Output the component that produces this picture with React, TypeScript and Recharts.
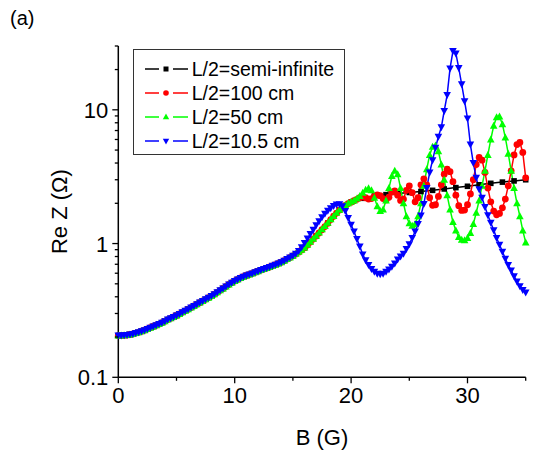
import React from "react";
import { LineChart, Line, XAxis, YAxis, Legend } from "recharts";

// magnetic field grid (G), 0.25 G steps
const fieldB = [
  0, 0.25, 0.5, 0.75, 1, 1.25, 1.5, 1.75, 2, 2.25, 2.5, 2.75, 3, 3.25, 3.5, 3.75,
  4, 4.25, 4.5, 4.75, 5, 5.25, 5.5, 5.75, 6, 6.25, 6.5, 6.75, 7, 7.25, 7.5, 7.75,
  8, 8.25, 8.5, 8.75, 9, 9.25, 9.5, 9.75, 10, 10.25, 10.5, 10.75, 11, 11.25, 11.5, 11.75,
  12, 12.25, 12.5, 12.75, 13, 13.25, 13.5, 13.75, 14, 14.25, 14.5, 14.75, 15,
  15.25, 15.5, 15.75, 16, 16.25, 16.5, 16.75, 17, 17.25, 17.5, 17.75, 18, 18.25, 18.5, 18.75,
  19, 19.25, 19.5, 19.75, 20, 20.25, 20.5, 20.75, 21, 21.25, 21.5, 21.75, 22, 22.25, 22.5, 22.75,
  23, 23.25, 23.5, 23.75, 24, 24.25, 24.5, 24.75, 25, 25.25, 25.5, 25.75, 26, 26.25, 26.5, 26.75,
  27, 27.25, 27.5, 27.75, 28, 28.25, 28.5, 28.75, 29, 29.25, 29.5, 29.75, 30, 30.25, 30.5, 30.75,
  31, 31.25, 31.5, 31.75, 32, 32.25, 32.5, 32.75, 33, 33.25, 33.5, 33.75, 34, 34.25, 34.5, 34.75, 35,
];

// low-field part (0-15 G), all lengths coincide here
const lowField = [
  0.205, 0.205, 0.206, 0.207, 0.209, 0.211, 0.214, 0.217, 0.221, 0.225, 0.23, 0.235, 0.24, 0.245,
  0.25, 0.256, 0.263, 0.27, 0.276, 0.283, 0.29, 0.298, 0.306, 0.314, 0.323, 0.332, 0.342, 0.352,
  0.362, 0.372, 0.383, 0.394, 0.405, 0.418, 0.432, 0.447, 0.462, 0.478, 0.494, 0.51, 0.525, 0.539,
  0.553, 0.565, 0.577, 0.588, 0.598, 0.61, 0.622, 0.633, 0.645, 0.656, 0.668, 0.681, 0.695, 0.71,
  0.726, 0.744, 0.765, 0.787, 0.81,
];

const z100 = [
  ...lowField,
  0.835, 0.862, 0.895, 0.93, 0.975, 1.025, 1.08, 1.14, 1.2, 1.27, 1.34, 1.42, 1.51, 1.6, 1.69,
  1.78, 1.86, 1.93, 1.99, 2.04,
  2.09, 2.14, 2.2, 2.23, 2.2, 2.15, 2.17, 2.25, 2.31, 2.28, 2.17, 2.12, 2.22, 2.42, 2.48, 2.3,
  2.1, 2.15, 2.5, 2.7, 2.4, 2.05, 2.2, 2.75, 3.05, 2.75, 2.2, 1.93, 1.95, 2.25, 2.75, 3.3,
  3.6, 3.45, 2.9, 2.3, 1.92, 1.77, 1.78, 1.95, 2.35, 3.0, 3.9, 4.4, 4.2, 3.4, 2.6, 2.05,
  1.75, 1.64, 1.68, 1.85, 2.15, 2.7, 3.5, 4.6, 5.5, 5.7, 4.8, 3.1,
];

const z50 = [
  ...lowField,
  0.84, 0.868, 0.9, 0.935, 0.98, 1.03, 1.085, 1.145, 1.21, 1.28, 1.35, 1.43, 1.52, 1.61, 1.7,
  1.79, 1.87, 1.94, 2.0, 2.05,
  2.1, 2.17, 2.27, 2.4, 2.52, 2.59, 2.5, 2.2, 1.9, 1.75, 1.8, 2.1, 2.6, 3.2, 3.5, 3.3,
  2.6, 2.0, 1.6, 1.42, 1.36, 1.4, 1.6, 2.0, 2.7, 3.6, 4.6, 5.3, 5.4, 4.9, 3.9, 3.0,
  2.3, 1.8, 1.45, 1.25, 1.12, 1.07, 1.06, 1.1, 1.2, 1.4, 1.7, 2.1, 2.7, 3.5, 4.6, 6.0,
  7.6, 8.8, 8.9, 7.8, 6.2, 4.7, 3.5, 2.6, 2.0, 1.6, 1.25, 1.02,
];

const z10 = [
  ...lowField,
  0.84, 0.88, 0.94, 1.01, 1.09, 1.18, 1.27, 1.37, 1.47, 1.57, 1.67, 1.76, 1.84, 1.91, 1.96,
  1.97, 1.9, 1.75, 1.55, 1.38,
  1.23, 1.08, 0.95, 0.83, 0.75, 0.69, 0.645, 0.615, 0.595, 0.59, 0.595, 0.615, 0.64, 0.67, 0.71, 0.76,
  0.8, 0.84, 0.91, 0.99, 1.1, 1.23, 1.4, 1.62, 1.98, 2.6, 3.4, 4.2, 5.2, 6.3, 7.4, 9.8,
  12.9, 20.4, 27.5, 26.4, 20.5, 15.5, 11.6, 8.6, 5.5, 4.0, 3.1, 2.55, 2.2, 1.88, 1.63, 1.43,
  1.26, 1.1, 0.98, 0.87, 0.77, 0.69, 0.63, 0.57, 0.52, 0.48, 0.45, 0.43,
];

// semi-infinite plasma, one point per gauss
const fieldSemi = [
  0, 1, 2, 3, 4, 5, 6, 7, 8, 9, 10, 11, 12, 13, 14, 15, 16, 17,
  18, 19, 20, 21, 22, 23, 24, 25, 26, 27, 28, 29, 30, 31, 32, 33, 34, 35,
];
const zSemi = [
  0.205, 0.209, 0.221, 0.24, 0.263, 0.29, 0.323, 0.362, 0.405, 0.462, 0.525, 0.577, 0.622, 0.668,
  0.726, 0.81, 0.93, 1.14, 1.42, 1.78, 2.04, 2.18, 2.26, 2.32, 2.37, 2.41, 2.45, 2.5, 2.56, 2.62,
  2.68, 2.75, 2.82, 2.88, 2.94, 3.0,
];

const xTicks = [0, 5, 10, 15, 20, 25, 30, 35];
const xMajor = [0, 10, 20, 30];
const yTicks = [
  0.1, 0.2, 0.3, 0.4, 0.5, 0.6, 0.7, 0.8, 0.9, 1, 2, 3, 4, 5, 6, 7, 8, 9, 10, 20, 30,
];
const yMajor = [0.1, 1, 10];

const FONT = "'Liberation Sans', Arial, sans-serif";

const rows = fieldB.map((b, i) => {
  const k = fieldSemi.indexOf(b);
  return {
    b,
    semi: k >= 0 ? zSemi[k] : null,
    l100: z100[i],
    l50: z50[i],
    l10: z10[i],
  };
});

function XTick(props: any) {
  const { x, y, payload } = props;
  const major = xMajor.includes(payload.value);
  const len = major ? 6 : 3.5;
  return (
    <g>
      <line x1={x} x2={x} y1={y} y2={y + len} stroke="#000" strokeWidth={1.3} />
      {major && (
        <text x={x} y={y + 26} textAnchor="middle" fontSize={22} fontFamily={FONT} fill="#000">
          {payload.value}
        </text>
      )}
    </g>
  );
}

function YTick(props: any) {
  const { x, y, payload } = props;
  const major = yMajor.includes(payload.value);
  const len = major ? 6 : 3.5;
  return (
    <g>
      <line x1={x - len} x2={x} y1={y} y2={y} stroke="#000" strokeWidth={1.3} />
      {major && (
        <text x={x - len - 4} y={y + 8} textAnchor="end" fontSize={22} fontFamily={FONT} fill="#000">
          {payload.value}
        </text>
      )}
    </g>
  );
}

const squareDot = (p: any) =>
  p.cy == null ? <g key={`s${p.index}`} /> : (
    <rect key={`s${p.index}`} x={p.cx - 2.8} y={p.cy - 2.8} width={5.6} height={5.6} fill="#000" />
  );
const circleDot = (p: any) =>
  p.cy == null ? <g key={`c${p.index}`} /> : (
    <circle key={`c${p.index}`} cx={p.cx} cy={p.cy} r={3.4} fill="#ff0000" />
  );
const upDot = (p: any) =>
  p.cy == null ? <g key={`u${p.index}`} /> : (
    <path key={`u${p.index}`} d={`M${p.cx},${p.cy - 4}L${p.cx + 3.8},${p.cy + 3}L${p.cx - 3.8},${p.cy + 3}Z`} fill="#00ff00" />
  );
const downDot = (p: any) =>
  p.cy == null ? <g key={`d${p.index}`} /> : (
    <path key={`d${p.index}`} d={`M${p.cx},${p.cy + 4}L${p.cx + 3.8},${p.cy - 3}L${p.cx - 3.8},${p.cy - 3}Z`} fill="#0000ff" />
  );

const legendItems = [
  { label: "L/2=semi-infinite", color: "#000", shape: "square" },
  { label: "L/2=100 cm", color: "#ff0000", shape: "circle" },
  { label: "L/2=50 cm", color: "#00ff00", shape: "up" },
  { label: "L/2=10.5 cm", color: "#0000ff", shape: "down" },
];

function LegendIcon({ color, shape }: { color: string; shape: string }) {
  let mark: React.ReactNode = null;
  if (shape === "square") mark = <rect x={19.5} y={6.5} width={5} height={5} fill={color} />;
  if (shape === "circle") mark = <circle cx={22} cy={9} r={2.8} fill={color} />;
  if (shape === "up") mark = <path d="M22,5.5L25.2,11.2L18.8,11.2Z" fill={color} />;
  if (shape === "down") mark = <path d="M22,12.5L25.2,6.8L18.8,6.8Z" fill={color} />;
  return (
    <svg width={46} height={18} style={{ display: "block" }}>
      <line x1={1} x2={15} y1={9} y2={9} stroke={color} strokeWidth={1.5} />
      <line x1={29} x2={44} y1={9} y2={9} stroke={color} strokeWidth={1.5} />
      {mark}
    </svg>
  );
}

function LegendBox() {
  return (
    <div
      style={{
        boxSizing: "border-box",
        width: 212,
        height: 106,
        border: "1.3px solid #333",
        background: "#fff",
        padding: "7px 0 0 10px",
        fontFamily: FONT,
      }}
    >
      {legendItems.map((it) => (
        <div key={it.label} style={{ display: "flex", alignItems: "center", height: 24 }}>
          <LegendIcon color={it.color} shape={it.shape} />
          <span style={{ fontSize: 19.5, marginLeft: 2, color: "#000", lineHeight: "24px" }}>{it.label}</span>
        </div>
      ))}
    </div>
  );
}

export default function App() {
  return (
    <div style={{ position: "relative", width: 532, height: 451, fontFamily: FONT }}>
      <div style={{ position: "absolute", left: 2, top: -1, fontSize: 20, color: "#000" }}>(a)</div>
      <LineChart width={532} height={451} data={rows} margin={{ top: 38, right: 14.3, bottom: 21.7, left: 0 }}>
        <XAxis
          type="number"
          dataKey="b"
          domain={[0, 35]}
          ticks={xTicks}
          interval={0}
          tick={<XTick />}
          tickLine={false}
          tickSize={0}
          tickMargin={0}
          height={60}
          axisLine={{ stroke: "#000", strokeWidth: 1.5 }}
          label={{
            content: (p: any) => (
              <text
                x={p.viewBox.x + p.viewBox.width / 2}
                y={p.viewBox.y + 68}
                textAnchor="middle"
                fontSize={22}
                fontFamily={FONT}
                fill="#000"
              >
                B (G)
              </text>
            ),
          }}
        />
        <YAxis
          type="number"
          scale="log"
          domain={[0.1, 30]}
          allowDataOverflow
          ticks={yTicks}
          interval={0}
          tick={<YTick />}
          tickLine={false}
          tickSize={0}
          tickMargin={0}
          width={110.3}
          axisLine={{ stroke: "#000", strokeWidth: 1.5 }}
          label={{
            content: (p: any) => {
              const cx = 52;
              const cy = p.viewBox.y + p.viewBox.height / 2;
              return (
                <text
                  x={cx}
                  y={cy}
                  transform={`rotate(-90 ${cx} ${cy})`}
                  textAnchor="middle"
                  dominantBaseline="central"
                  fontSize={22}
                  fontFamily={FONT}
                  fill="#000"
                >
                  Re Z (Ω)
                </text>
              );
            },
          }}
        />
        <Legend
          layout="vertical"
          align="center"
          verticalAlign="middle"
          wrapperStyle={{ left: 124.7, top: 41.3, width: 212, height: 106 }}
          content={() => <LegendBox />}
        />
        <Line dataKey="semi" stroke="#000" strokeWidth={1.5} dot={squareDot} connectNulls isAnimationActive={false} />
        <Line dataKey="l100" stroke="#ff0000" strokeWidth={1.5} dot={circleDot} isAnimationActive={false} />
        <Line dataKey="l50" stroke="#00ff00" strokeWidth={1.5} dot={upDot} isAnimationActive={false} />
        <Line dataKey="l10" stroke="#0000ff" strokeWidth={1.5} dot={downDot} isAnimationActive={false} />
      </LineChart>
    </div>
  );
}
